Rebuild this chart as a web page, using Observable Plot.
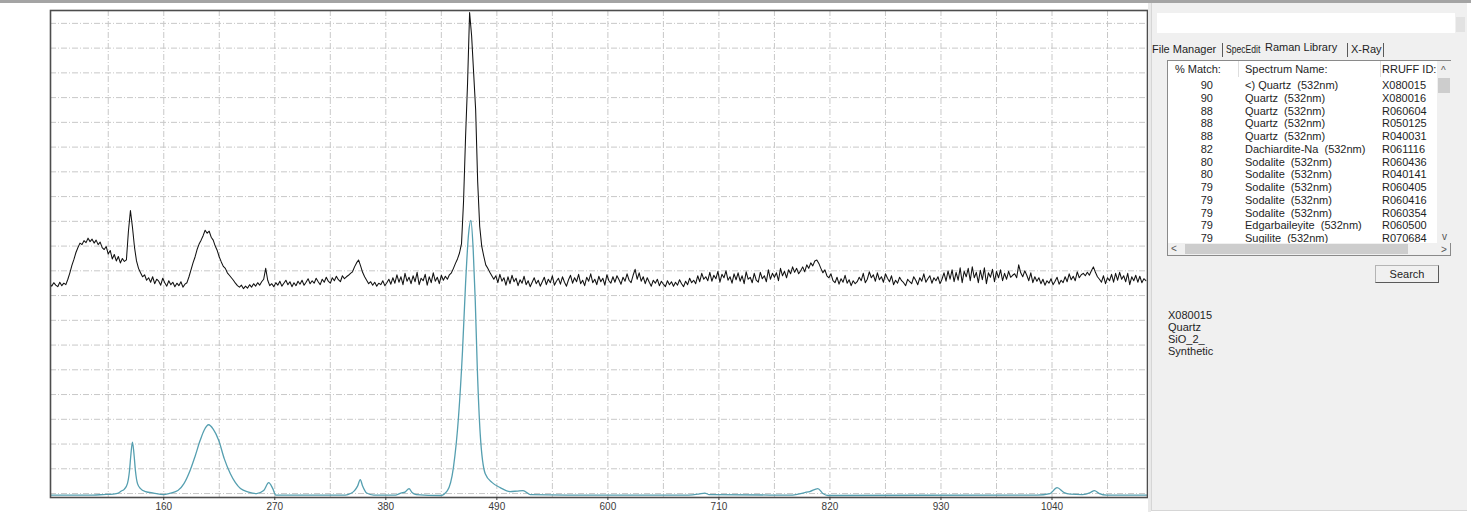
<!DOCTYPE html>
<html><head><meta charset="utf-8">
<script src="https://cdn.jsdelivr.net/npm/d3@7"></script>
<script src="https://cdn.jsdelivr.net/npm/@observablehq/plot@0.6"></script>
<style>
html,body{margin:0;padding:0;background:#fff;}
#page{position:relative;width:1471px;height:512px;overflow:hidden;background:#fff;font-family:"Liberation Sans",Arial,sans-serif;}
#chart{position:absolute;left:0;top:0;}
.abs{position:absolute;white-space:pre;font-size:11px;color:#1e1e1e;line-height:12px;}
.box{position:absolute;}
</style></head>
<body><div id="page"></div>
<script>
// ---------- chart data ----------
// Measured spectrum: Raman shift sampled from 47 cm-1 every 2 cm-1
const sampleStart = 47, sampleStep = 2;
const sampleCounts = [
424,419,426,421,418,427,420,425,422,433,
446,461,473,487,497,506,503,511,507,516,
509,514,506,512,503,508,497,493,499,484,
491,474,483,470,479,466,475,469,472,530,
572,538,498,470,455,446,438,442,431,436,
427,438,424,433,429,421,435,426,419,430,
422,427,418,425,420,428,417,423,426,438,
452,466,478,493,504,512,521,532,526,530,
518,512,500,491,478,468,459,455,446,441,
436,431,425,420,417,421,414,419,415,422,
417,424,419,426,421,428,433,455,431,420,
424,418,426,421,429,419,425,431,422,428,
418,426,420,429,423,431,421,427,434,424,
430,425,435,428,422,433,427,437,429,425,
436,430,439,432,428,440,434,438,441,445,
448,458,466,472,460,447,438,431,424,428,
421,427,419,425,422,430,420,426,433,423,
436,425,442,427,438,422,445,429,437,424,
440,428,447,422,435,430,443,421,438,426,
446,429,437,424,441,431,439,433,442,446,
455,465,474,486,505,590,720,830,972,925,
850,775,630,540,500,480,462,455,447,440,
433,440,426,443,429,436,421,438,424,441,
428,435,420,432,425,439,422,430,418,427,
436,424,431,419,428,437,422,433,426,440,
421,429,435,423,438,427,419,432,441,425,
436,428,443,424,431,420,437,429,444,426,
433,422,439,428,435,421,442,430,425,438,
427,440,432,423,437,429,444,431,426,441,
453,433,446,429,438,424,436,427,419,431,
425,433,420,429,423,418,430,422,428,419,
427,421,432,424,418,429,422,435,426,431,
424,440,428,445,433,438,430,447,429,441,
434,449,427,443,436,450,431,438,425,444,
432,446,429,440,424,448,433,437,426,445,
431,427,447,434,440,428,452,433,445,437,
446,430,455,440,449,436,452,444,458,447,
455,444,450,458,448,462,455,466,460,470,
472,465,455,446,452,440,436,444,430,426,
437,423,434,427,441,425,432,420,430,424,
428,437,430,445,426,433,448,436,442,429,
446,432,438,427,444,435,428,440,422,431,
425,437,430,426,420,433,428,424,438,431,
422,436,429,444,427,434,440,425,436,430,
438,424,433,446,429,450,433,452,428,447,
431,456,426,449,438,455,430,458,436,447,
426,451,432,456,424,446,437,453,428,449,
436,452,430,445,433,449,437,441,444,436,
462,446,438,450,441,430,446,426,438,429,
436,424,433,421,430,425,434,422,429,437,
423,431,426,438,428,444,432,439,430,448,
436,442,445,440,447,441,450,458,447,438,
433,427,440,424,436,430,443,427,445,431,
447,433,440,428,445,422,438,430,441,427,
439,426,434,430
];
// Library reference spectrum (Quartz X080015)
const refShift  = [48,90,100,110,115,118,121,124,126,127.5,129,130.5,132,134,137,142,150,160,165,174,180,186,191,196,200,204.5,209,214.5,220,226,231,236,244,252,259,264,268,271,300,340,345,349,352,354.7,357,361,368,390,395,399,403,406,410,434,441,447,452,456,459,462,464.3,466.6,468.6,470.6,473.5,478.5,485.4,493.3,503,510,516,523,560,680,690,696,700,760,783,795,800,808,813,818,1000,1025,1038,1045,1052,1058,1070,1078,1082,1087,1094,1135];
const refCounts = [-3,-3,-2,-1,1,5,9,20,45,80,104,80,45,20,10,4,1,-2,0,6,20,46,75,107,128,139,130,107,70,40,22,10,3,0,6,22,10,-3,-3,-3,0,6,15,28,15,1,-3,-3,1,3,10,2,-2,-4,6,53,154,289,424,525,552,491,390,255,121,40,22,12,4,5,6,-2,-3,-3,-1,1,-2,-3,-3,2,4,10,0,-4,-3,-3,0,12,2,-1,-2,2,6,0,-3,-3];
const xTicks = [160,270,380,490,600,710,820,930,1040];
const xGrid = [105,160,215,270,325,380,435,490,545,600,655,710,765,820,875,930,985,1040,1095];
const yGrid = [0,50,100,150,200,250,300,350,400,450,500,550,600,650,700,750,800,850,900,950];

// ---------- library list data ----------
const matchPct = [90,90,88,88,88,82,80,80,79,79,79,79,79];
const specNames = ["<) Quartz  (532nm)","Quartz  (532nm)","Quartz  (532nm)","Quartz  (532nm)","Quartz  (532nm)","Dachiardite-Na  (532nm)","Sodalite  (532nm)","Sodalite  (532nm)","Sodalite  (532nm)","Sodalite  (532nm)","Sodalite  (532nm)","Edgarbaileyite  (532nm)","Sugilite  (532nm)"];
const rruffIds = ["X080015","X080016","R060604","R050125","R040031","R061116","R060436","R040141","R060405","R060416","R060354","R060500","R070684"];
const tabLabels = ["File Manager","SpecEdit","Raman Library","X-Ray"];
const infoLines = ["X080015","Quartz","SiO_2_","Synthetic"];

const sample = sampleCounts.map((v,i)=>({x: sampleStart + sampleStep*i, y: v}));
const ref = refShift.map((x,i)=>({x, y: refCounts[i]}));

const gridStyle = {stroke:"#c8c8c8", strokeOpacity:1, strokeWidth:1, strokeDasharray:"6,2,1,2"};
const chart = Plot.plot({
  width: 1150, height: 512,
  marginLeft: 50, marginRight: 3, marginTop: 10, marginBottom: 15,
  style: {fontFamily: '"Liberation Sans", Arial, sans-serif', fontSize: "10px", background: "transparent"},
  x: {domain: [47.8, 1134.6]},
  y: {domain: [-8, 976], axis: null},
  marks: [
    Plot.gridX(xGrid, gridStyle),
    Plot.gridY(yGrid, gridStyle),
    Plot.line(ref, {x:"x", y:"y", stroke:"#559fb0", strokeWidth:1.3, curve:"monotone-x", clip:true}),
    Plot.line(sample, {x:"x", y:"y", stroke:"#111", strokeWidth:1.05, clip:true}),
    Plot.frame({stroke:"#4d4d4d", strokeWidth:1.6}),
    Plot.axisX(xTicks, {tickSize:3, tickPadding:2, color:"#3a3a3a", label:null, tickFormat:d=>String(d)})
  ]
});
const page = document.getElementById("page");
chart.id = "chart";
page.appendChild(chart);

// ---------- side panel ----------
function box(l,t,w,h,css){const d=document.createElement("div");d.className="box";d.style.cssText=`left:${l}px;top:${t}px;width:${w}px;height:${h}px;`+(css||"");page.appendChild(d);return d;}
function txt(s,l,t,css,parent){const d=document.createElement("div");d.className="abs";d.textContent=s;d.style.cssText+=`left:${l}px;top:${t}px;`+(css||"");(parent||page).appendChild(d);return d;}

box(0,0,1471,3,"background:#a4a4a4;");
box(1148,3,3,509,"background:#e9e9e9;");
box(1151,3,315,507,"background:#f0f0f0;border-left:1px solid #d6d6d6;border-bottom:1px solid #d6d6d6;");
box(1157,13,298,20,"background:#fff;");
box(1456,17,9,15,"background:#e2e2e2;");
// tabs
const tabX = [1152,1226,1265,1351];
tabLabels.forEach((t,i)=>txt(t,tabX[i], i===2?41:43, i===1?"transform:scaleX(0.78);transform-origin:0 0;":""));
[1222,1347,1383].forEach(x=>box(x,43,1,14,"background:#5a5a5a;"));
// list box
box(1167,60,284,196,"background:#fff;border:1px solid #8a8a8a;box-sizing:border-box;");
txt("% Match:",1175,63);
txt("Spectrum Name:",1245,63);
txt("RRUFF ID:",1382,63);
[1238,1380].forEach(x=>box(x,61,1,16,"background:#dedede;"));
const rows = box(1168,78,269,165,"overflow:hidden;");
matchPct.forEach((m,i)=>{
  const top = 1 + 12.75*i;
  txt(String(m),12,top,"width:33px;text-align:right;",rows);
  txt(specNames[i],77,top,"",rows);
  txt(rruffIds[i],214,top,"",rows);
});
// vertical scrollbar
box(1437,61,14,182,"background:#f0f0f0;");
txt("^",1441,65,"font-size:10px;color:#555;");
box(1438,78,12,15,"background:#cdcdcd;");
txt("v",1442,231,"font-size:10px;color:#555;");
// horizontal scrollbar
box(1168,243,282,12,"background:#f0f0f0;");
txt("<",1171,243,"font-size:10px;color:#555;");
box(1185,244,223,10,"background:#cdcdcd;");
txt(">",1441,244,"font-size:10px;color:#555;");
// search button
box(1375,265,64,18,"background:#f0f0f0;border:1px solid #b4b4b4;border-right-color:#5a5a5a;border-bottom-color:#5a5a5a;box-sizing:border-box;");
txt("Search",1375,268,"width:64px;text-align:center;");
// info
infoLines.forEach((s,i)=>txt(s,1168,309+12*i));
</script>
</body></html>
